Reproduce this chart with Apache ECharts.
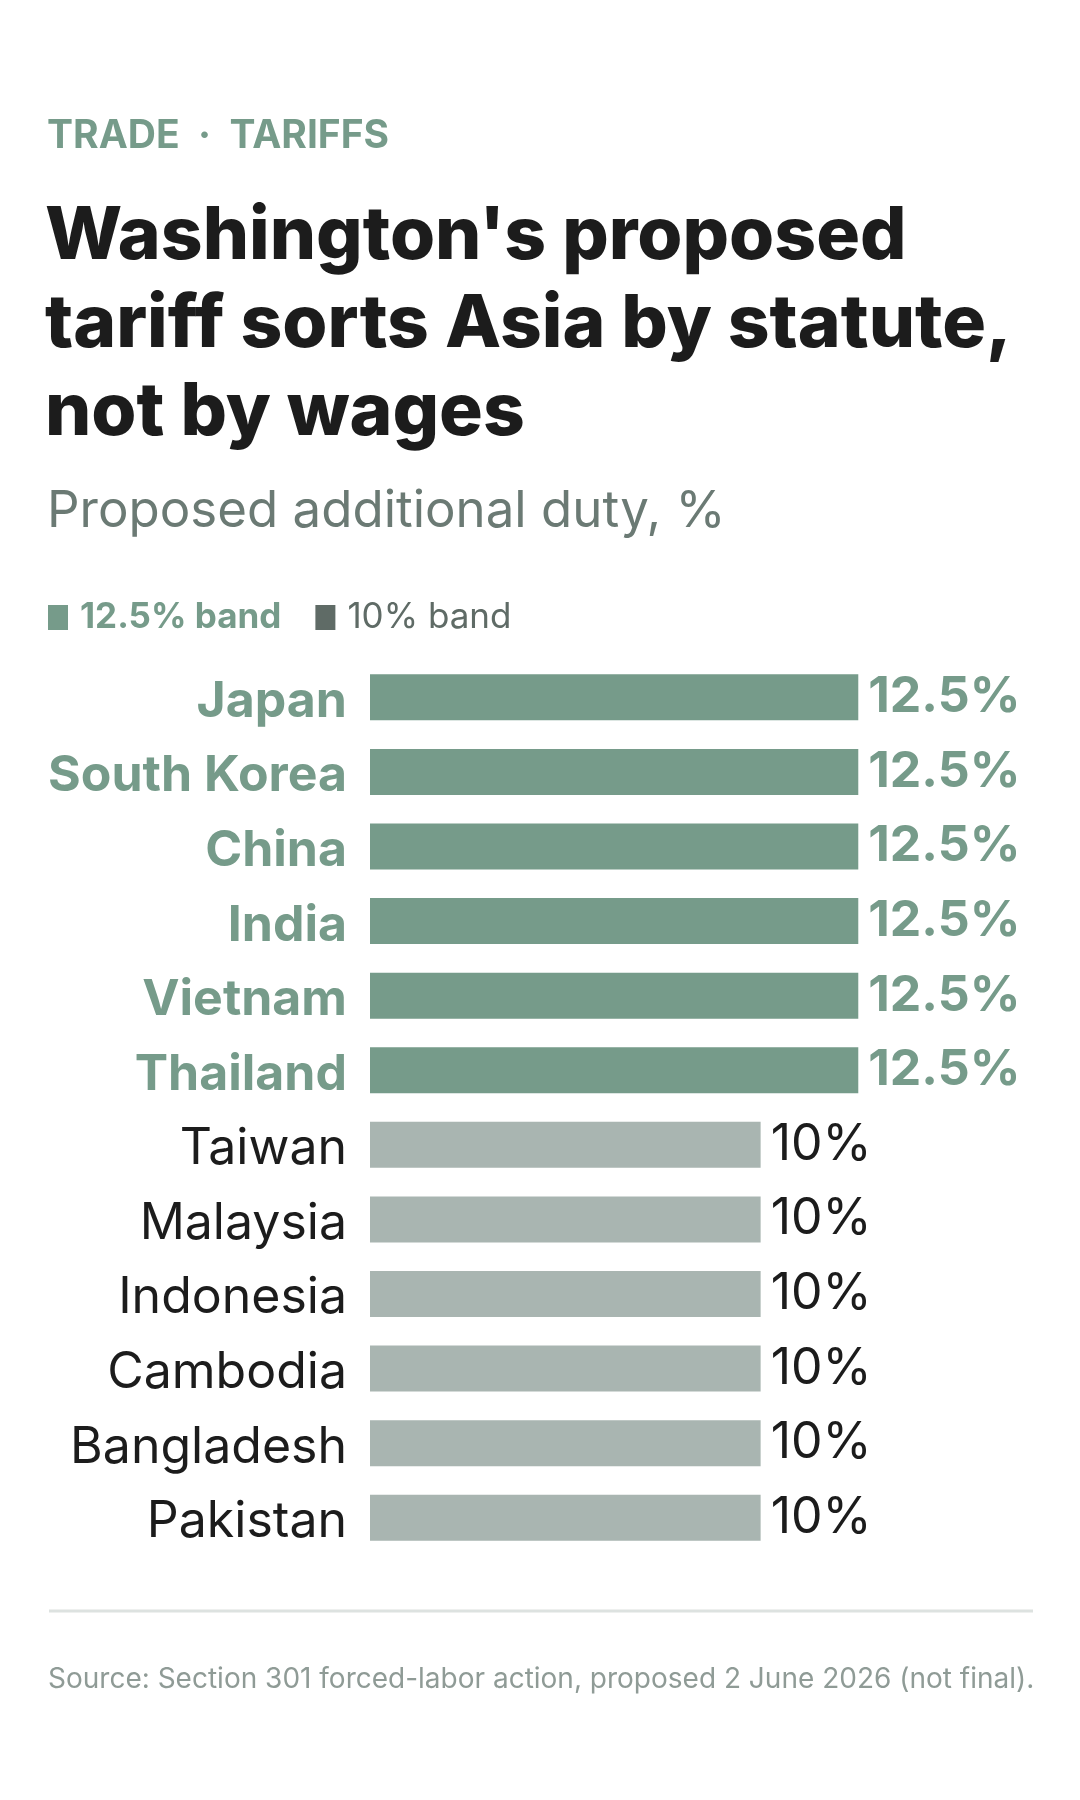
<!DOCTYPE html>
<html>
<head>
<meta charset="utf-8">
<script src="https://cdn.jsdelivr.net/npm/echarts@6/dist/echarts.min.js"></script>
<style>
html,body{margin:0;padding:0;background:#fff;}
#chart{width:1080px;height:1800px;}
</style>
</head>
<body>
<div id="chart"></div>
<script>
/*
* data
*/
var countries = ['Japan','South Korea','China','India','Vietnam','Thailand',
	'Taiwan','Malaysia','Indonesia','Cambodia','Bangladesh','Pakistan'];
var duties = [12.5,12.5,12.5,12.5,12.5,12.5,10,10,10,10,10,10];
var bandNames = ['12.5% band','10% band'];

var GREEN = '#769b8a';
var GREY = '#a9b5b1';
var DARK = '#5f6b66';
var INK = '#1c1c1c';
var FONT = 'Inter';

function isHigh(i){ return duties[i] >= 12.5; }

// one series per band, overlapped
var highData = [], lowData = [];
for (var i = 0; i < duties.length; i++) {
	highData.push(isHigh(i) ? duties[i] : null);
	lowData.push(isHigh(i) ? null : duties[i]);
}

var option = {
	backgroundColor: '#fff',
	animation: false,
	title: [{
		text: 'TRADE  ·  TARIFFS',
		left: 47, top: 115, padding: 0,
		textStyle: {fontFamily: FONT, fontSize: 39, fontWeight: 'bold', color: GREEN, lineHeight: 42}
	}, {
		text: "Washington's proposed\ntariff sorts Asia by statute,\nnot by wages",
		left: 45, top: 193, padding: 0,
		textStyle: {fontFamily: FONT, fontSize: 73, fontWeight: 800, color: INK, lineHeight: 88}
	}, {
		text: 'Proposed additional duty, %',
		left: 47, top: 484, padding: 0,
		textStyle: {fontFamily: FONT, fontSize: 51, fontWeight: 'normal', color: '#6b7a74', lineHeight: 56}
	}, {
		text: 'Source: Section 301 forced-labor action, proposed 2 June 2026 (not final).',
		left: 48, top: 1664, padding: 0,
		textStyle: {fontFamily: FONT, fontSize: 28, fontWeight: 'normal', color: '#8f9b96', lineHeight: 32}
	}],
	legend: {
		left: 48, top: 600, padding: 0,
		icon: 'rect',
		itemWidth: 20, itemHeight: 25,
		itemGap: 34,
		selectedMode: false,
		data: [
			{name: bandNames[0], itemStyle: {color: GREEN},
				textStyle: {color: GREEN, fontWeight: 'bold'}},
			{name: bandNames[1], itemStyle: {color: DARK},
				textStyle: {color: DARK, fontWeight: 'normal'}}
		],
		textStyle: {fontFamily: FONT, fontSize: 35, lineHeight: 25, padding: [0, 0, 0, 7]}
	},
	grid: {left: 370, right: 85, top: 660, height: 895, containLabel: false},
	xAxis: {
		type: 'value', min: 0, max: 16,
		show: false
	},
	yAxis: {
		type: 'category',
		data: countries,
		inverse: true,
		axisLine: {show: false},
		axisTick: {show: false},
		splitLine: {show: false},
		axisLabel: {
			margin: 23,
			formatter: function (v, idx) {
				return (isHigh(idx) ? '{hi|' : '{lo|') + v + '}';
			},
			rich: {
				hi: {fontFamily: FONT, fontSize: 50, fontWeight: 'bold', color: GREEN, padding: [9, 0, 0, 0]},
				lo: {fontFamily: FONT, fontSize: 50, fontWeight: 'normal', color: INK, padding: [9, 0, 0, 0]}
			}
		}
	},
	series: [{
		name: bandNames[0],
		type: 'bar',
		data: highData,
		barWidth: 46,
		barGap: '-100%',
		itemStyle: {color: GREEN},
		label: {
			show: true, position: 'right', distance: 10,
			formatter: '{c}%',
			fontFamily: FONT, fontSize: 50, fontWeight: 'bold', color: GREEN
		}
	}, {
		name: bandNames[1],
		type: 'bar',
		data: lowData,
		barWidth: 46,
		barGap: '-100%',
		itemStyle: {color: GREY},
		label: {
			show: true, position: 'right', distance: 10,
			formatter: '{c}%',
			fontFamily: FONT, fontSize: 50, fontWeight: 'normal', color: INK
		}
	}],
	graphic: [{
		type: 'line',
		shape: {x1: 49, y1: 1611, x2: 1033, y2: 1611},
		style: {stroke: '#dde2e0', lineWidth: 3}
	}]
};

var myChart = echarts.init(document.getElementById('chart'));
myChart.setOption(option);
</script>
</body>
</html>
